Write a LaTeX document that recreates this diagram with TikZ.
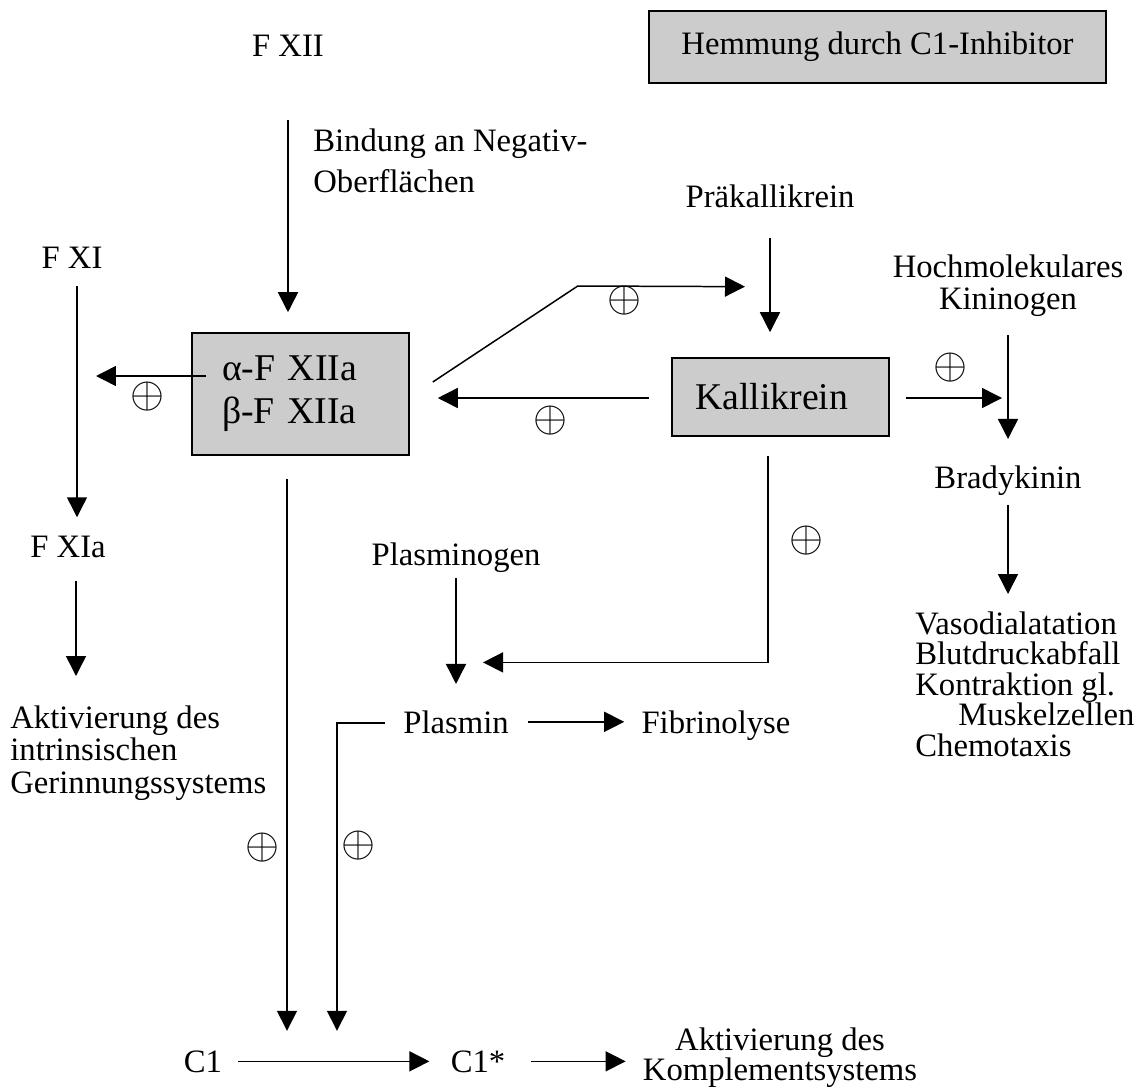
\documentclass[tikz,border=0pt]{standalone}
\usepackage{fontspec}
\setmainfont{Liberation Serif}
\usetikzlibrary{arrows.meta, positioning, calc}
\definecolor{BoxGray}{RGB}{204, 204, 204}

\begin{document}
\begin{tikzpicture}[
            x=0.02cm, y=-0.02cm,
            txt/.style={inner sep=0pt, font=\fontsize{18.6}{18.7}\selectfont},
            bigtxt/.style={font=\fontsize{21.5}{24.4}\selectfont},
            graybox/.style={draw, fill=BoxGray, line width=0.9pt},
            plus/.style={inner sep=0pt, font=\fontsize{24.88}{24.88}\selectfont},
            arrow/.style={-{Triangle[length=0.4cm, width=0.4cm]}, line width=0.85pt}
        ]
            \useasboundingbox (0,0) rectangle (1138,1091);

            \node[graybox, txt, minimum width=9.14cm, minimum height=1.44cm] (hemmung) at (877.5,47) {Hemmung durch C1-Inhibitor};

            \node[txt, anchor=base] (fxii) at (288,57) {F XII};
            \node[txt, anchor=north west, align=left] (bindung) at (313,128) {Bindung an Negativ-\\[5.1pt]Oberflächen};
            \node[txt, anchor=base] (fxi) at (72,268) {F XI};
            \node[txt, anchor=base] (fxia) at (68,557) {F XIa};
            \node[txt, anchor=north west, align=left] (aktint) at (10,705) {Aktivierung des\\intrinsischen\\Gerinnungssystems};
            \node[graybox, bigtxt, inner xsep=0.6cm, inner ysep=0pt, text width=3.14cm, align=left, minimum height=2.44cm] (xii) at (300.5,394) {α-F XIIa\\β-F XIIa};

            \node[txt, anchor=base] (praekal) at (770,208) {Präkallikrein};
            \node[graybox, bigtxt, inner xsep=0.46cm, inner ysep=0pt, text width=3.42cm, align=left, minimum height=1.56cm] (kal) at (780.5,397) {Kallikrein};
            \node[txt, anchor=north, align=center] (hmk) at (1008,254) {Hochmolekulares\\Kininogen};
            \node[txt, anchor=base] (brady) at (1008,488) {Bradykinin};
            \node[txt, anchor=north west, align=left, font=\fontsize{18.6}{17.4}\selectfont] (effekte) at (915,611)
                {Vasodialatation\\Blutdruckabfall\\Kontraktion gl.\\\hspace*{0.86cm}Muskelzellen\\Chemotaxis};

            \node[txt, anchor=base] (plasminogen) at (456,565) {Plasminogen};
            \node[txt, anchor=base] (plasmin) at (456,733) {Plasmin};
            \node[txt, anchor=base] (fibrin) at (716,733) {Fibrinolyse};

            \node[txt, anchor=base] (c1) at (203,1072) {C1};
            \node[txt, anchor=base] (c1s) at (478,1072) {C1*};
            \node[txt, anchor=north, align=center, font=\fontsize{18.6}{17.6}\selectfont] (aktkomp) at (780,1027) {Aktivierung des\\Komplementsystems};

            % Faktor XII / XI
            \draw[arrow, shorten <=1.26cm, shorten >=0.4cm] (fxii.south) -- (fxii.south |- xii.north);
            \draw[arrow] ($(fxi.south)+(5,18)$) -- ($(fxi.south |- fxia.north)+(5,-18)$);
            \draw[arrow] ($(fxia.south)+(8,23)$) -- ($(fxia.south |- aktint.north)+(8,-29)$);
            \draw[arrow] ($(xii.west)+(15,-18)$) -- node[plus, pos=0.53, yshift=-0.42cm] {$\oplus$} ($(xii.west -| fxi.south)+(24,-18)$);

            % Kallikrein-Kinin
            \draw[arrow] ($(xii.east)+(23,-12)$) -- ++(145,-96) -- node[plus, pos=0.28, yshift=-0.28cm] {$\oplus$} ($(praekal.south)+(-25,78)$);
            \draw[arrow, shorten <=0.58cm, shorten >=0.5cm] (praekal.south) -- (praekal.south |- kal.north);
            \draw[arrow] ($(kal.west)+(-22,1)$) -- node[plus, pos=0.465, yshift=-0.46cm] {$\oplus$} ($(xii.east |- kal.west)+(28,1)$);
            \draw[arrow] ($(kal.east)+(16,1)$) -- node[plus, pos=0.46, yshift=0.6cm] {$\oplus$} ($(hmk.south |- kal.east)+(-6,1)$);
            \draw[arrow, shorten <=0.36cm, shorten >=0.52cm] (hmk.south) -- (hmk.south |- brady.north);
            \draw[arrow, shorten <=0.2cm, shorten >=0.34cm] (brady.south) -- (brady.south |- effekte.north);

            % Fibrinolyse
            \draw[arrow] ($(kal.south)+(-12.5,19)$) |- node[plus, pos=0.205, xshift=0.76cm] {$\oplus$} ($(plasminogen.south)+(27,90)$);
            \draw[arrow, shorten <=0.12cm, shorten >=0.52cm] (plasminogen.south) -- (plasminogen.south |- plasmin.north);
            \draw[arrow, shorten <=0.38cm, shorten >=0.34cm] (plasmin.east) -- (plasmin.east -| fibrin.west);

            % Komplement
            \draw[arrow] ($(plasmin.west)+(-18,1)$) -| node[plus, pos=0.7, xshift=0.42cm] {$\oplus$} ($(xii.south)+(36.5,575)$);
            \draw[arrow] ($(xii.south)+(-13.5,23)$) -- node[plus, pos=0.668, xshift=-0.5cm] {$\oplus$} ($(xii.south)+(-13.5,575)$);
            \draw[arrow, shorten <=0.32cm, shorten >=0.42cm] (c1.east) -- (c1s.west |- c1.east);
            \draw[arrow, shorten <=0.5cm] (c1s.east) -- ++(120,0);
        \end{tikzpicture}
\end{document}
